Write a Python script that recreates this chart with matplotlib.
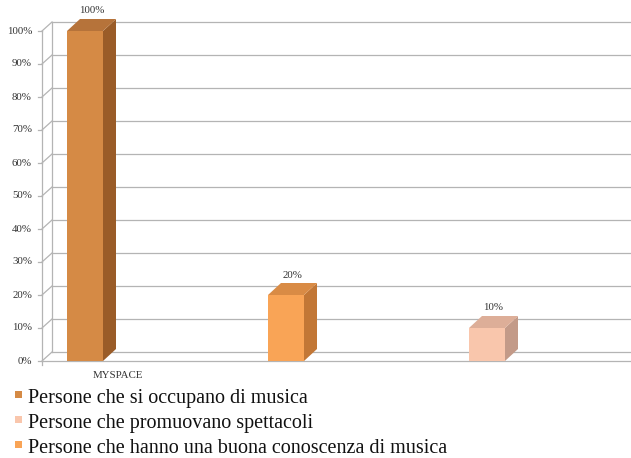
import numpy as np
import matplotlib.pyplot as plt
from matplotlib.patches import Polygon, Rectangle

# data
category = "MYSPACE"
series = ["Persone che si occupano di musica",
          "Persone che hanno una buona conoscenza di musica",
          "Persone che promuovano spettacoli"]
values = [100, 20, 10]
legend_order = [0, 2, 1]
yticks = np.arange(0, 101, 10)

front = ["#D58A45", "#F9A456", "#F9C6AC"]
side = ["#9A5C28", "#C27736", "#C39A88"]
top = ["#B6733A", "#D98B45", "#DDAE98"]

plt.rcParams['font.family'] = ['Liberation Serif', 'DejaVu Serif']

W, H = 631, 458
fig = plt.figure(figsize=(W / 100, H / 100), dpi=100)
# front wall: x 42..631 px, y 361 (0%) .. 31 (100%)
ax = fig.add_axes([42 / W, (H - 361) / H, 589 / W, 330 / H])
slot = 201.0                     # px per series slot
ax.set_xlim(0, 589 / slot)
ax.set_ylim(0, 100)
ax.axis('off')

px = 1 / slot                    # one pixel in x data units
py = 100 / 330                   # one pixel in y data units
wdx, wdy = 10 * px, 9 * py       # wall depth
bdx, bdy = 13 * px, 12 * py      # bar depth
xmax = 589 / slot
grid = '#B4B4B4'

# walls / gridlines
for v in yticks:
    ax.plot([wdx, xmax], [v + wdy, v + wdy], color=grid, lw=0.9, clip_on=False)
    ax.plot([0, wdx], [v, v + wdy], color=grid, lw=0.9, clip_on=False)
    ax.plot([-4 * px, 0], [v, v], color=grid, lw=0.9, clip_on=False)
    ax.text(-10 * px, v, f"{v}%", ha='right', va='center', fontsize=7.8,
            color='#333333')
ax.plot([0, 0], [0, 100], color=grid, lw=0.9, clip_on=False)
ax.plot([wdx, wdx], [wdy, 100 + wdy], color=grid, lw=0.9, clip_on=False)
ax.plot([0, xmax], [0, 0], color=grid, lw=0.9, clip_on=False)
ax.plot([0, 0], [0, -4 * py], color=grid, lw=0.9, clip_on=False)

# bars
x0 = 25 * px
bw = 36 * px
for i, v in enumerate(values):
    xl = x0 + i
    ax.bar(xl, v, width=bw, align='edge', color=front[i], lw=0, zorder=3,
           clip_on=False)
    ax.add_patch(Polygon([(xl + bw, 0), (xl + bw + bdx, bdy),
                          (xl + bw + bdx, v + bdy), (xl + bw, v)],
                         closed=True, fc=side[i], lw=0, zorder=3, clip_on=False))
    ax.add_patch(Polygon([(xl, v), (xl + bdx, v + bdy),
                          (xl + bw + bdx, v + bdy), (xl + bw, v)],
                         closed=True, fc=top[i], lw=0, zorder=3, clip_on=False))
    ax.text(xl + (bw + bdx) / 2, v + bdy + 8 * py, f"{v}%", ha='center',
            va='center', fontsize=7.8, color='#333333')

ax.text(76 * px, -14 * py, category, ha='center', va='center', fontsize=7.8,
        color='#333333')

# legend
for row, k in enumerate(legend_order):
    yb = 403 + row * 25
    fig.patches.append(Rectangle((15 / W, (H - yb + 5) / H), 7 / W, 7 / H,
                                 transform=fig.transFigure, fc=front[k], lw=0))
    fig.text(28 / W, (H - yb) / H, series[k], ha='left', va='baseline',
             fontsize=14.5, color='#111111')

fig.savefig("out.png", dpi=100)
